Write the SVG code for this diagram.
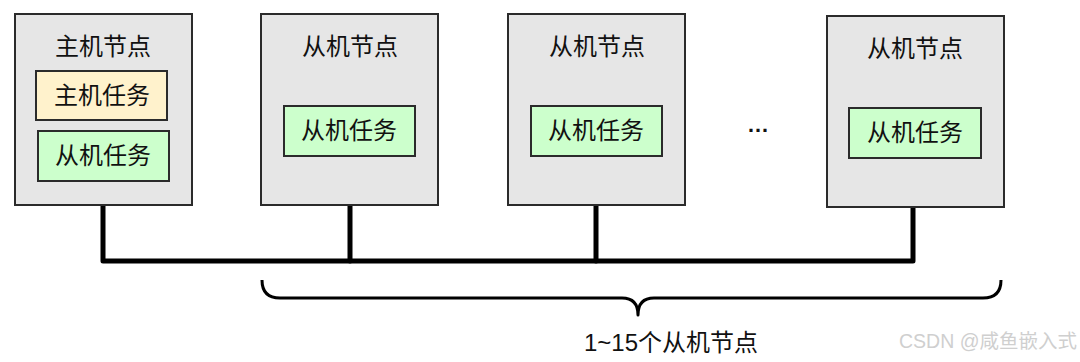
<svg xmlns="http://www.w3.org/2000/svg" width="1080" height="362" viewBox="0 0 1080 362">
<style>
.node{fill:#e6e6e6;stroke:#2b2b2b;stroke-width:2}
.ytask{fill:#fff2cc;stroke:#2b2b2b;stroke-width:2}
.gtask{fill:#ccffcc;stroke:#2b2b2b;stroke-width:2}
.t{font-family:"Noto Sans CJK SC","Liberation Sans",sans-serif;font-size:24px;fill:#111;text-anchor:middle}
.bus{fill:none;stroke:#000;stroke-width:5;stroke-linejoin:round;stroke-linecap:round}
.brace{fill:none;stroke:#000;stroke-width:3;stroke-linejoin:round}
</style>
<rect width="1080" height="362" fill="#fff"/>
<g id="connectors">
<path class="bus" d="M103,206 V261 H913 V208"/>
<path class="bus" d="M350,206 V261"/>
<path class="bus" d="M596,206 V261"/>
</g>
<g id="master">
<rect class="node" x="15" y="14" width="177" height="191"/>
<text class="t" x="103" y="55">主机节点</text>
<rect class="ytask" x="36" y="71" width="131" height="49"/>
<text class="t" x="102" y="104">主机任务</text>
<rect class="gtask" x="38" y="131" width="131" height="50"/>
<text class="t" x="103" y="164">从机任务</text>
</g>
<g id="slave1">
<rect class="node" x="261" y="14" width="177" height="191"/>
<text class="t" x="350" y="55">从机节点</text>
<rect class="gtask" x="284" y="106" width="131" height="50"/>
<text class="t" x="349" y="139">从机任务</text>
</g>
<g id="slave2">
<rect class="node" x="508" y="14" width="177" height="191"/>
<text class="t" x="597" y="55">从机节点</text>
<rect class="gtask" x="531" y="106" width="131" height="50"/>
<text class="t" x="596" y="139">从机任务</text>
</g>
<text id="ellipsis" x="758" y="132" font-family="Liberation Sans, sans-serif" font-size="22" font-weight="bold" text-anchor="middle" fill="#111">…</text>
<g id="slaveN">
<rect class="node" x="827" y="16" width="177" height="191"/>
<text class="t" x="915" y="57">从机节点</text>
<rect class="gtask" x="849" y="108" width="132" height="50"/>
<text class="t" x="915" y="141">从机任务</text>
</g>
<g id="brace-group">
<path class="brace" d="M262,280 Q262,298 280,298 H622 Q638,298 638,315 Q638,298 654,298 H983 Q1001,298 1001,280"/>
<text class="t" x="671" y="351"><tspan font-family="Liberation Sans, sans-serif">1~15</tspan>个从机节点</text>
</g>
<text id="watermark" x="1077" y="348" font-family="Liberation Sans, 'Noto Sans CJK SC', sans-serif" font-size="19.5" text-anchor="end" fill="#cfcfcf">CSDN @咸鱼嵌入式</text>
</svg>
